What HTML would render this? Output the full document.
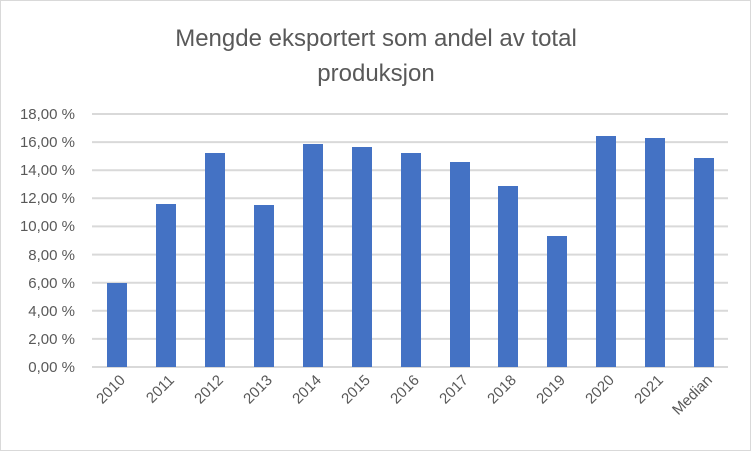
<!DOCTYPE html>
<html><head><meta charset="utf-8"><style>
body{margin:0;background:#fff}
svg{display:block;font-family:"Liberation Sans",sans-serif}
</style></head><body>
<svg width="752" height="452" viewBox="0 0 752 452" xmlns="http://www.w3.org/2000/svg">
<rect x="0.5" y="0.5" width="750" height="450" fill="#fff" stroke="#d9d9d9"/>
<text x="376" y="46" font-size="24" fill="#595959" text-anchor="middle">Mengde eksportert som andel av total</text>
<text x="376" y="81" font-size="24" fill="#595959" text-anchor="middle">produksjon</text>
<g stroke="#d9d9d9" stroke-width="2">
<line x1="92" x2="728" y1="114" y2="114"/><line x1="92" x2="728" y1="142.1" y2="142.1"/>
<line x1="92" x2="728" y1="170.2" y2="170.2"/><line x1="92" x2="728" y1="198.3" y2="198.3"/>
<line x1="92" x2="728" y1="226.4" y2="226.4"/><line x1="92" x2="728" y1="254.6" y2="254.6"/>
<line x1="92" x2="728" y1="282.7" y2="282.7"/><line x1="92" x2="728" y1="310.8" y2="310.8"/>
<line x1="92" x2="728" y1="338.9" y2="338.9"/><line x1="92" x2="728" y1="367" y2="367"/>
</g>
<g font-size="15" fill="#595959" text-anchor="end">
<text x="75" y="119">18,00 %</text><text x="75" y="147">16,00 %</text><text x="75" y="175">14,00 %</text>
<text x="75" y="203">12,00 %</text><text x="75" y="231">10,00 %</text><text x="75" y="260">8,00 %</text>
<text x="75" y="288">6,00 %</text><text x="75" y="316">4,00 %</text><text x="75" y="344">2,00 %</text>
<text x="75" y="372">0,00 %</text>
</g>
<g fill="#4472c4">
<rect x="107" y="283" width="20" height="84"/>
<rect x="156" y="204" width="20" height="163"/>
<rect x="205" y="153" width="20" height="214"/>
<rect x="254" y="205" width="20" height="162"/>
<rect x="303" y="144" width="20" height="223"/>
<rect x="352" y="147" width="20" height="220"/>
<rect x="401" y="153" width="20" height="214"/>
<rect x="450" y="162" width="20" height="205"/>
<rect x="498" y="186" width="20" height="181"/>
<rect x="547" y="236" width="20" height="131"/>
<rect x="596" y="136" width="20" height="231"/>
<rect x="645" y="138" width="20" height="229"/>
<rect x="694" y="158" width="20" height="209"/>
</g>
<g font-size="15" fill="#595959" text-anchor="end">
<text transform="translate(126,381) rotate(-45)">2010</text>
<text transform="translate(175,381) rotate(-45)">2011</text>
<text transform="translate(224,381) rotate(-45)">2012</text>
<text transform="translate(273,381) rotate(-45)">2013</text>
<text transform="translate(322,381) rotate(-45)">2014</text>
<text transform="translate(371,381) rotate(-45)">2015</text>
<text transform="translate(420,381) rotate(-45)">2016</text>
<text transform="translate(469,381) rotate(-45)">2017</text>
<text transform="translate(517,381) rotate(-45)">2018</text>
<text transform="translate(566,381) rotate(-45)">2019</text>
<text transform="translate(615,381) rotate(-45)">2020</text>
<text transform="translate(664,381) rotate(-45)">2021</text>
<text transform="translate(713,381) rotate(-45)">Median</text>
</g>
</svg>
</body></html>
